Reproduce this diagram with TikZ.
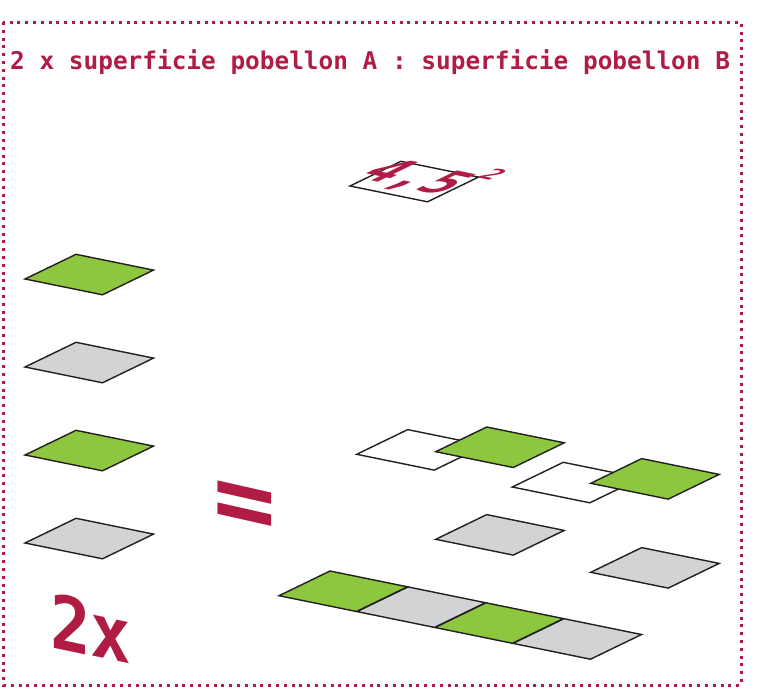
\documentclass[tikz,border=0pt]{standalone}
\usepackage{fontspec}
\newfontfamily\pix{DejaVu Sans Mono Bold}
\definecolor{crim}{RGB}{176,28,68}
\definecolor{lgreen}{RGB}{141,198,63}
\definecolor{lgray}{RGB}{209,211,212}
\definecolor{edgecol}{RGB}{35,31,32}
\tikzset{
  tileedge/.style={draw=edgecol, line width=1.4pt, line join=miter},
  crimtext/.style={text=crim, inner sep=0pt, transform shape},
}
\newcommand\isotile[3]{\draw[tileedge, fill=#3] (#1,#2) -- ++(51,-24.7) -- ++(77.5,15.8) -- ++(-51,24.7) -- cycle;}
\begin{document}
\begin{tikzpicture}[x=1pt,y=-1pt]
\useasboundingbox (0,0) rectangle (757,691);
\fill[white] (0,0) rectangle (757,691);
% border
\draw[crim, line width=3pt, dash pattern=on 3pt off 4.8pt] (3,22) rectangle (741,685);
% title
\node[font=\pix\fontsize{24.4}{26}\selectfont, text=crim, anchor=base west, inner sep=0pt] (title) at (10,69) {2 x superficie pobellon A : superficie pobellon B};
% top tile with 4,5
\isotile{350}{186}{white}
\begin{scope}[shift={(350,186)}, cm={1,-0.204,0.658,0.319,(0,0)}, x=1pt, y=1pt]
  \node[crimtext, font=\pix\fontsize{56}{56}\selectfont, xscale=0.85, yscale=1.5, anchor=center] (num) at (34,46) {4,5};
  \node[crimtext, font=\pix\fontsize{28}{28}\selectfont, xscale=0.9, yscale=1.4, anchor=center] (sq) at (84,90) {2};
\end{scope}
% left column
\isotile{25}{279}{lgreen}
\isotile{25}{367}{lgray}
\isotile{25}{455}{lgreen}
\isotile{25}{543}{lgray}
% right arrangement
\isotile{356.7}{454.3}{white}
\isotile{435.7}{451.7}{lgreen}
\isotile{512.3}{487}{white}
\isotile{590.7}{483.3}{lgreen}
\isotile{435.7}{539.3}{lgray}
\isotile{590.7}{572.3}{lgray}
% strip
\isotile{279}{595.7}{lgreen}
\isotile{357}{611.6}{lgray}
\isotile{435}{627.5}{lgreen}
\isotile{513}{643.4}{lgray}
% equals
\begin{scope}[shift={(245,511)}, cm={1,-0.226,0,0.95,(0,0)}]
  \node[crimtext, font=\pix\fontsize{104}{104}\selectfont, anchor=center] (eq) at (0,0) {=};
\end{scope}
% 2x
\begin{scope}[shift={(50,647)}, cm={0.9,-0.19,0,1,(0,0)}]
  \node[crimtext, font=\pix\fontsize{75}{75}\selectfont, anchor=base west] (twox) at (0,0) {2x};
\end{scope}
\end{tikzpicture}
\end{document}
